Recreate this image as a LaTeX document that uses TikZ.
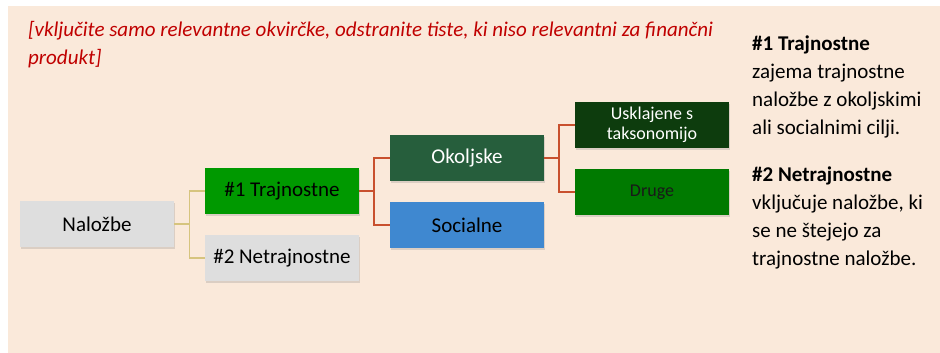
\documentclass[tikz,border=0pt]{standalone}
\usepackage{fontspec}
\setmainfont{Carlito}
\usetikzlibrary{shadows}
\definecolor{peach}{HTML}{FAE9DA}
\definecolor{lgray}{HTML}{DEDEDE}
\definecolor{tgreen}{HTML}{009900}
\definecolor{okgreen}{HTML}{265E3C}
\definecolor{soblue}{HTML}{3F88D0}
\definecolor{usgreen}{HTML}{0D3C0D}
\definecolor{drgreen}{HTML}{007A00}
\definecolor{khaki}{HTML}{D6C47E}
\definecolor{rust}{HTML}{C8502E}
\definecolor{darkred}{HTML}{C00000}
\tikzset{
  box/.style={minimum width=154pt, minimum height=46pt, inner sep=2pt, align=center,
    font=\fontsize{21}{23}\selectfont, drop shadow={shadow xshift=1pt, shadow yshift=-2pt, opacity=0.25}},
  small/.style={font=\fontsize{18}{20}\selectfont},
  klink/.style={khaki, line width=1.3pt},
  rlink/.style={rust, line width=1.5pt},
  desc/.style={anchor=north west, align=left, font=\fontsize{21}{28}\selectfont, inner sep=0pt},
}
\begin{document}
\begin{tikzpicture}[x=1pt,y=-1pt]
\useasboundingbox (0,0) rectangle (940,353);
\fill[white] (0,0) rectangle (940,353);
\fill[peach] (8,6) rectangle (940,353);

\node[anchor=north west, align=left, text=darkred, font=\fontsize{21}{28}\selectfont\itshape, inner sep=0pt]
  (note) at (28,21) {[vključite samo relevantne okvirčke, odstranite tiste, ki niso relevantni za finančni\\produkt]};

\node[box, fill=lgray] (nal) at (97,224) {Naložbe};
\node[box, fill=tgreen] (t1) at (282,191) {\#1 Trajnostne};
\node[box, fill=lgray] (t2) at (282,258) {\#2 Netrajnostne};
\node[box, fill=okgreen, text=white] (ok) at (467,158) {Okoljske};
\node[box, fill=soblue] (so) at (467,225) {Socialne};
\node[box, small, fill=usgreen, text=white] (us) at (652,125) {Usklajene s\\taksonomijo};
\node[box, small, fill=drgreen, text=black!90] (dr) at (652,192) {Druge};

\draw[klink] (nal.east) -- ++(15,0) |- (t1.west);
\draw[klink] (nal.east) -- ++(15,0) |- (t2.west);
\draw[rlink] (t1.east) -- ++(15,0) |- (ok.west);
\draw[rlink] (t1.east) -- ++(15,0) |- (so.west);
\draw[rlink] (ok.east) -- ++(15,0) |- (us.west);
\draw[rlink] (ok.east) -- ++(15,0) |- (dr.west);

\node[desc] (d1) at (752,36)
  {\textbf{\#1 Trajnostne}\\zajema trajnostne\\naložbe z okoljskimi\\ali socialnimi cilji.};
\node[desc] (d2) at (752,167)
  {\textbf{\#2 Netrajnostne}\\vključuje naložbe, ki\\se ne štejejo za\\trajnostne naložbe.};
\end{tikzpicture}
\end{document}
